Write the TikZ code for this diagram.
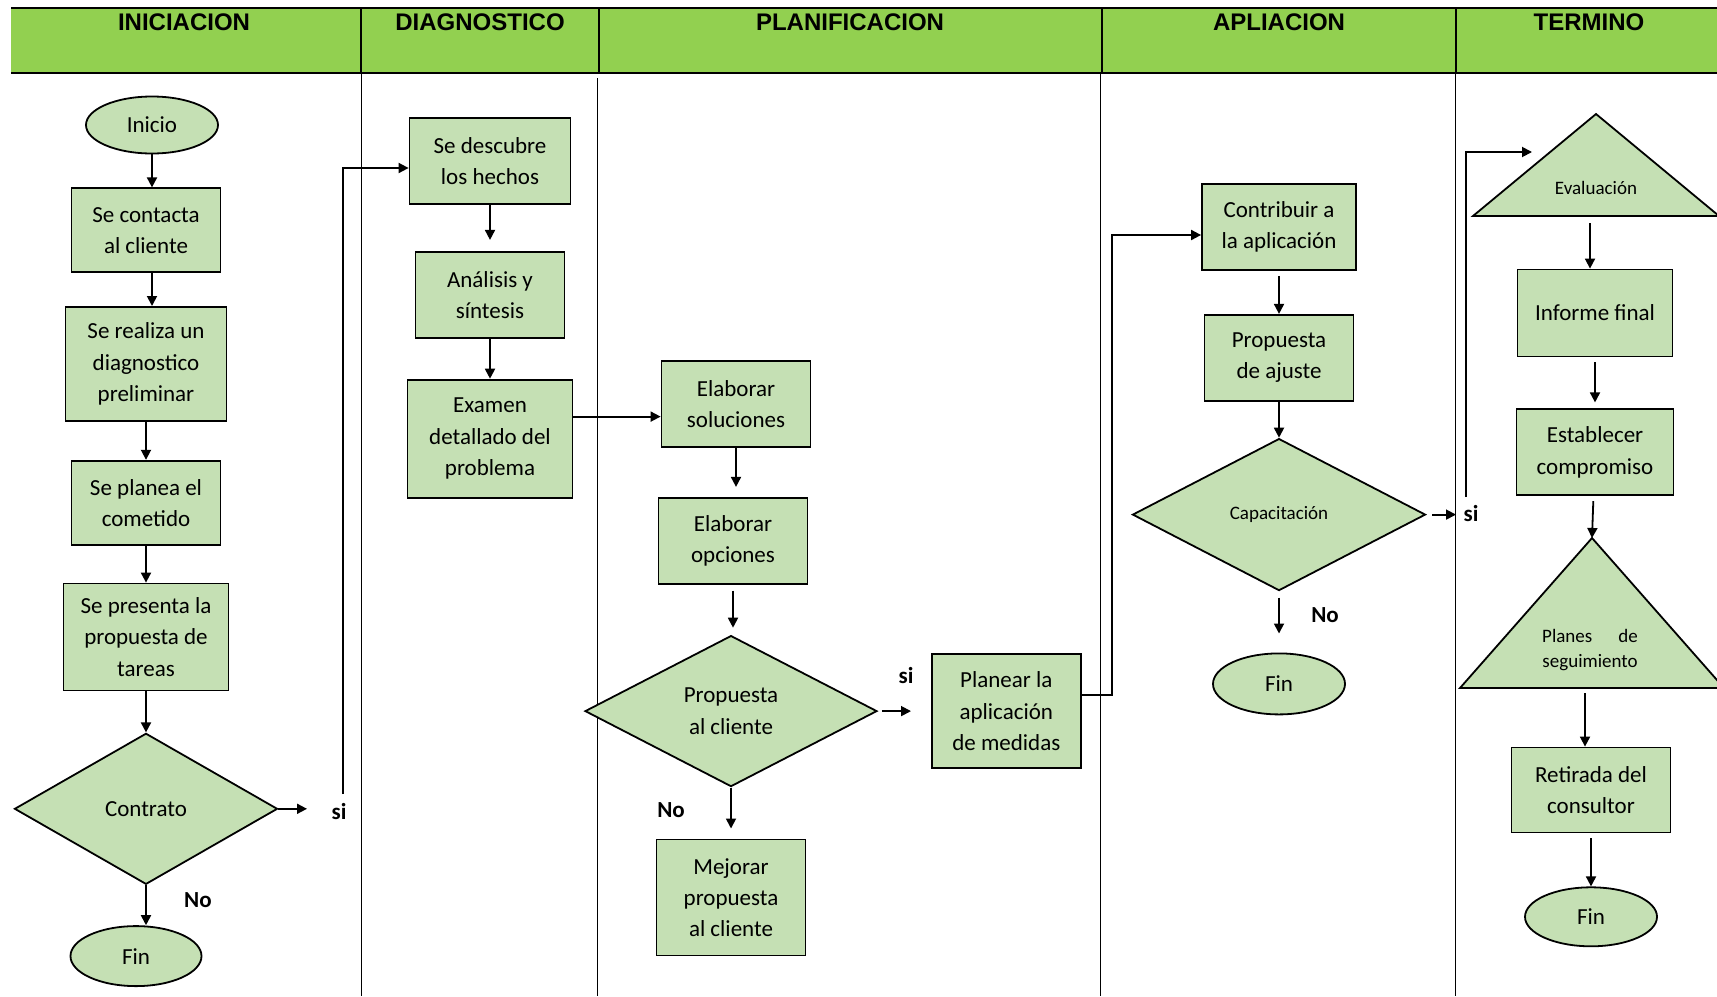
\documentclass[tikz,border=0pt]{standalone}
\usepackage{fontspec}
\setmainfont{Carlito}
\newfontfamily\headfont{Liberation Sans}
\usepackage{tikz}
\usetikzlibrary{shapes.geometric, arrows.meta, positioning}
\definecolor{hgreen}{HTML}{92D050}
\definecolor{lgreen}{HTML}{C5E0B4}
\tikzset{
  box/.style={rectangle, draw=black, fill=lgreen, line width=0.9pt, minimum width=74.5pt,
              minimum height=43pt, align=center, inner sep=2pt, font=\fontsize{11.5}{15.6}\selectfont},
  term/.style={ellipse, draw=black, fill=lgreen, line width=0.9pt, minimum width=66pt,
               minimum height=28.5pt, inner sep=0pt, font=\fontsize{11.5}{15.6}\selectfont},
  decision/.style={diamond, aspect=2, draw=black, fill=lgreen, line width=0.9pt, minimum width=146pt,
                   minimum height=75.5pt, inner sep=0pt, align=center, font=\fontsize{11.5}{15.6}\selectfont},
  tri/.style={draw=black, fill=lgreen, line width=0.9pt},
  small/.style={align=center, font=\fontsize{9.5}{12.5}\selectfont},
  lbl/.style={font=\bfseries\fontsize{11.5}{14}\selectfont},
  head/.style={font=\headfont\bfseries\fontsize{12}{14}\selectfont},
  lane/.style={draw=black, line width=0.5pt},
  flow/.style={-{Triangle[length=5pt, width=5pt]}, draw=black, line width=0.9pt}
}

\begin{document}
\begin{tikzpicture}[x=0.5pt, y=-0.5pt]
  \useasboundingbox (0,0) rectangle (1717,996);

  \fill[hgreen] (11,8) rectangle (1717,73);
  \draw[line width=1.3pt] (11,8) -- (1717,8) (11,73) -- (1717,73);
  \draw[line width=1pt] (361,8) -- (361,73) (599,8) -- (599,73) (1102,8) -- (1102,73) (1456,8) -- (1456,73);
  \node[head] (hini) at (184,22) {INICIACION};
  \node[head] (hdiag) at (480,22) {DIAGNOSTICO};
  \node[head] (hplan) at (850,22) {PLANIFICACION};
  \node[head] (hapl) at (1279,22) {APLIACION};
  \node[head] (hterm) at (1589,22) {TERMINO};
  \draw[lane] (361,73) -- (361,996) (597,78) -- (597,996) (1100,73) -- (1100,996) (1455,73) -- (1455,996);

  \node[term] (inicio) at (152,125) {Inicio};
  \node[box, below=16.5pt of inicio, xshift=-3pt, minimum height=42pt] (contacta) {Se contacta\\al cliente};
  \node[box, below=16.4pt of contacta, minimum width=80.5pt, minimum height=57pt] (diagpre) {Se realiza un\\diagnostico\\preliminar};
  \node[box, below=19pt of diagpre, minimum height=42pt] (planea) {Se planea el\\cometido};
  \node[box, below=18.5pt of planea, minimum width=82.5pt, minimum height=53.5pt] (presenta) {Se presenta la\\propuesta de\\tareas};
  \node[decision, below=20.5pt of presenta, minimum width=131.5pt] (contrato) {Contrato};
  \node[term, below=20pt of contrato, xshift=-5pt, minimum width=65.5pt, minimum height=30pt] (fin1) {Fin};
  \node[lbl] (no1) at (198,900) {No};
  \node[lbl] (si1) at (339,811) {si};
  \coordinate (c1) at (307,811);
  \coordinate (c2) at (343,794);

  \node[box, minimum width=80.5pt] (descubre) at (490,161) {Se descubre\\los hechos};
  \node[box, below=23pt of descubre] (analisis) {Análisis y\\síntesis};
  \node[box, below=20pt of analisis, minimum width=82.5pt, minimum height=59pt] (examen) {Examen\\detallado del\\problema};

  \node[box] (soluciones) at (736,404) {Elaborar\\soluciones};
  \node[box, below=24.5pt of soluciones, xshift=-1.5pt] (opciones) {Elaborar\\opciones};
  \node[decision, below=25pt of opciones, xshift=-1pt] (propuesta) {Propuesta\\al cliente};
  \node[box, below=25.5pt of propuesta] (mejorar) [minimum height=58pt] {Mejorar\\propuesta\\al cliente};
  \node[box, right=26.5pt of propuesta, minimum height=57pt] (planear) {Planear la\\aplicación\\de medidas};
  \node[lbl] (no2) at (671,810) {No};
  \node[lbl] (si2) at (906,676) {si};
  \coordinate (c3) at (911,709);

  \node[box, minimum width=77pt] (contribuir) at (1279,227) {Contribuir a\\la aplicación};
  \node[box, below=21.5pt of contribuir] (ajuste) {Propuesta\\de ajuste};
  \node[decision, below=18pt of ajuste, minimum width=146.5pt, minimum height=76pt, font=\fontsize{9.5}{12.5}\selectfont] (capac) {Capacitación};
  \node[term, below=30.5pt of capac, minimum height=30.5pt] (fin2) {Fin};
  \node[lbl] (no3) at (1325,615) {No};
  \node[lbl] (si3) at (1471,514) {si};
  \coordinate (c4) at (1456,514);
  \coordinate (c5) at (1466,497);

  \draw[tri] (1596,114) coordinate (evaltop) -- (1473,216) coordinate (evalbl) -- (1719,216) coordinate (evalbr) -- cycle;
  \node[small] (eval) at (1596,188) {Evaluación};
  \coordinate (evalb) at (1590,216);
  \coordinate (evalin) at (1532,152);
  \node[box, minimum width=77.5pt, minimum height=43.5pt] (informe) at (1595,313) {Informe final};
  \node[box, below=25.5pt of informe, minimum width=78.5pt] (establecer) {Establecer\\compromiso};
  \draw[tri] (1592,538) coordinate (planestop) -- (1460,688) coordinate (planesbl) -- (1724,688) coordinate (planesbr) -- cycle;
  \node[small] (planes) at (1590,650) {\makebox[47.8pt][s]{Planes de}\\seguimiento};
  \coordinate (planesb) at (1585,688);
  \node[box, minimum width=79.5pt, minimum height=42.5pt] (retirada) at (1591,790) {Retirada del\\consultor};
  \node[term, below=26.5pt of retirada, minimum height=29.5pt] (fin3) {Fin};

  \draw[flow] (inicio) -- (inicio |- contacta.north);
  \draw[flow] (contacta.south -| inicio) -- (inicio |- diagpre.north);
  \draw[flow] (diagpre) -- (planea);
  \draw[flow] (planea) -- (presenta);
  \draw[flow] (presenta) -- (contrato);
  \draw[flow] (contrato) -- (contrato |- fin1.north);
  \draw[flow] (contrato.east) -- (contrato.east -| c1);
  \draw[flow] (c2) |- ([yshift=-3.5pt]descubre.west);

  \draw[flow, shorten >=5.5pt] (descubre) -- (analisis);
  \draw[flow] (analisis) -- (examen);
  \draw[flow] ([yshift=11pt]examen.east) -- ([yshift=11pt]examen.east -| soluciones.west);

  \draw[flow, shorten >=5pt] (soluciones) -- (soluciones |- opciones.north);
  \draw[flow, shorten <=3pt, shorten >=3.5pt] (opciones) -- (opciones |- propuesta.north);
  \draw[flow, shorten >=5pt] (propuesta) -- (mejorar);
  \draw[flow, shorten <=2pt] (propuesta.east) -- (propuesta.east -| c3);
  \draw[flow] ([yshift=8pt]planear.east) -- ++(30,0) |- ([yshift=-4pt]contribuir.west);

  \draw[flow, shorten <=2.5pt] (contribuir) -- (ajuste);
  \draw[flow] (ajuste) -- (capac);
  \draw[flow, shorten <=3pt, shorten >=9.5pt] (capac) -- (fin2);
  \draw[flow, shorten <=3pt] (capac.east) -- (capac.east -| c4);
  \draw[flow] (c5) |- (evalin);

  \draw[flow, shorten <=3.5pt] (evalb) -- (evalb |- informe.north);
  \draw[flow, shorten <=2.5pt, shorten >=3pt] (informe) -- (establecer);
  \draw[flow, shorten <=2.5pt] (establecer) -- (planestop);
  \draw[flow, shorten <=2.5pt] (planesb) -- (planesb |- retirada.north);
  \draw[flow, shorten <=2.5pt] (retirada) -- (fin3);
\end{tikzpicture}
\end{document}
